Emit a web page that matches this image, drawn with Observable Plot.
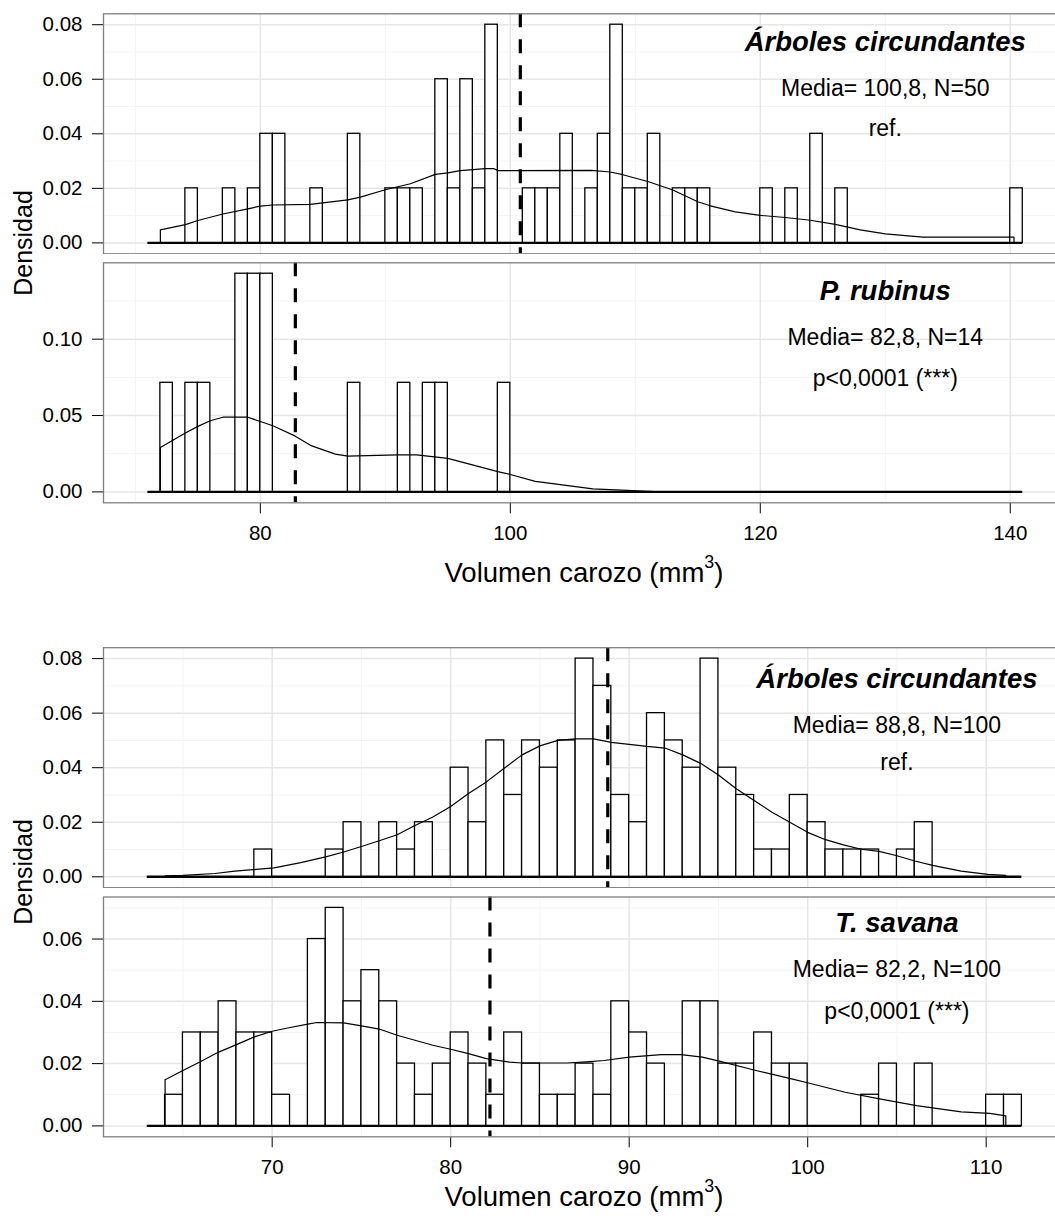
<!DOCTYPE html>
<html>
<head>
<meta charset="utf-8">
<script src="https://cdn.jsdelivr.net/npm/d3@7"></script>
<script src="https://cdn.jsdelivr.net/npm/@observablehq/plot@0.6"></script>
<style>
  html, body { margin: 0; padding: 0; background: #ffffff; }
  #root { position: relative; width: 1055px; height: 1223px; overflow: hidden; background: #ffffff;
          font-family: "Liberation Sans", Arial, Helvetica, sans-serif; color: #000; }
  .xtitle { position: absolute; transform: translate(-50%, -50%); white-space: nowrap; font-size: 27.5px; line-height: 1; }
  .xtitle sup { font-size: 0.65em; vertical-align: 0.8em; line-height: 0; }
  .ytitle { position: absolute; transform: translate(-50%, -50%) rotate(-90deg); white-space: nowrap; font-size: 25px; line-height: 1; }
</style>
</head>
<body>
<div id="root"></div>
<script>
// ---------------- DATA ----------------
const binWidth = 1;

// Figure 1, panel "Árboles circundantes" (N = 50)
const a1Start = [74, 77, 79, 80, 81, 84, 87, 90, 91, 92, 94, 95, 96, 97, 98, 101, 102, 103, 104, 106, 107, 108, 109, 110, 111, 113, 114, 115, 120, 122, 124, 126, 140];
const a1Count = [1, 1, 1, 2, 2, 1, 2, 1, 1, 1, 3, 1, 3, 1, 4, 1, 1, 1, 2, 1, 2, 4, 1, 1, 2, 1, 1, 1, 1, 1, 2, 1, 1];
const a1N = 50;
const a1Mean = 100.8;
const a1DensX = [72, 72, 74, 75, 77, 79, 80, 81, 84, 85, 87, 88, 90, 92, 94, 95, 96, 98, 98.7, 99, 106.5, 108, 109, 111, 113, 115, 116, 118, 120, 122, 124, 126, 128, 130, 133, 140.3, 140.3];
const a1DensY = [0, 0.0048, 0.0067, 0.0082, 0.0106, 0.0125, 0.0135, 0.0139, 0.0141, 0.0147, 0.0158, 0.0168, 0.0195, 0.0217, 0.0251, 0.0257, 0.0265, 0.0272, 0.0272, 0.0265, 0.0266, 0.026, 0.025, 0.0225, 0.0194, 0.0151, 0.0136, 0.0114, 0.0101, 0.0093, 0.0083, 0.0068, 0.0048, 0.0033, 0.0021, 0.0021, 0];
const a1Labels = ["Árboles circundantes", "Media= 100,8, N=50", "ref."];

// Figure 1, panel "P. rubinus" (N = 14)
const prStart = [72, 74, 75, 78, 79, 80, 87, 91, 93, 94, 99];
const prCount = [1, 1, 1, 2, 2, 2, 1, 1, 1, 1, 1];
const prN = 14;
const prMean = 82.8;
const prDensX = [72, 72, 74, 75, 76, 77, 79, 80, 81, 82.8, 84, 86, 87, 91, 92.5, 95, 99, 100, 102, 104, 106.6, 109.8, 112, 140.3];
const prDensY = [0, 0.029, 0.0386, 0.0429, 0.0466, 0.0489, 0.0489, 0.0461, 0.0433, 0.0365, 0.0305, 0.0247, 0.0234, 0.0242, 0.0242, 0.0219, 0.0133, 0.0114, 0.0069, 0.0047, 0.002, 0.0008, 0, 0];
const prLabels = ["P. rubinus", "Media= 82,8, N=14", "p<0,0001 (***)"];

// Figure 2, panel "Árboles circundantes" (N = 100)
const a2Start = [69, 73, 74, 76, 77, 78, 80, 81, 82, 83, 84, 85, 86, 87, 88, 89, 90, 91, 92, 93, 94, 95, 96, 97, 98, 99, 100, 101, 102, 103, 105, 106];
const a2Count = [1, 1, 2, 2, 1, 2, 4, 2, 5, 3, 5, 4, 5, 8, 7, 3, 2, 6, 5, 4, 8, 4, 3, 1, 1, 3, 2, 1, 1, 1, 1, 2];
const a2N = 100;
const a2Mean = 88.8;
const a2DensX = [64, 65, 66.8, 67.9, 69.1, 70.1, 71.6, 73, 74, 75, 76, 77, 78, 79, 80, 81, 82, 83, 84, 85, 86, 87, 88, 89, 91, 92, 93, 94, 95, 96, 97, 98, 99, 100, 101, 102, 103, 104, 105, 106, 107, 108.6, 110.1, 111.1];
const a2DensY = [0.0003, 0.0005, 0.0012, 0.0021, 0.0027, 0.0033, 0.0052, 0.0073, 0.0091, 0.0111, 0.0132, 0.0154, 0.0188, 0.0219, 0.0258, 0.0305, 0.0348, 0.0398, 0.0447, 0.048, 0.05, 0.0506, 0.0506, 0.0493, 0.0478, 0.0472, 0.0447, 0.0416, 0.0373, 0.0323, 0.028, 0.0237, 0.02, 0.0163, 0.0136, 0.0117, 0.0101, 0.0093, 0.0077, 0.0058, 0.0042, 0.0021, 0.0009, 0.0005];
const a2Labels = ["Árboles circundantes", "Media= 88,8, N=100", "ref."];

// Figure 2, panel "T. savana" (N = 100)
const tsStart = [64, 65, 66, 67, 68, 69, 70, 72, 73, 74, 75, 76, 77, 78, 79, 80, 81, 82, 83, 84, 85, 86, 87, 88, 89, 90, 91, 93, 94, 95, 96, 97, 98, 99, 103, 104, 106, 110, 111];
const tsCount = [1, 3, 3, 4, 3, 3, 1, 6, 7, 4, 5, 4, 2, 1, 2, 3, 2, 1, 3, 2, 1, 1, 2, 1, 4, 3, 2, 4, 4, 2, 2, 3, 2, 2, 1, 2, 2, 1, 1];
const tsN = 100;
const tsMean = 82.2;
const tsDensX = [64, 64, 65, 66, 67, 68, 69, 70, 71, 72, 72.5, 74, 75, 76, 77, 78, 79, 80, 81, 82, 83.3, 84, 86.5, 87.4, 88.6, 90, 91.8, 92.9, 94.1, 95.1, 97.1, 99.1, 100.1, 102.1, 104.1, 106.1, 108.6, 110.2, 111.1, 111.1];
const tsDensY = [0, 0.0148, 0.0178, 0.0207, 0.0237, 0.0261, 0.0286, 0.0304, 0.0316, 0.0327, 0.0332, 0.0331, 0.0321, 0.0311, 0.0291, 0.0275, 0.0259, 0.0246, 0.0232, 0.0216, 0.0205, 0.0202, 0.0202, 0.0205, 0.021, 0.0221, 0.0229, 0.0229, 0.0221, 0.0207, 0.0178, 0.0151, 0.0137, 0.0108, 0.0086, 0.0065, 0.0045, 0.004, 0.0032, 0];
const tsLabels = ["T. savana", "Media= 82,2, N=100", "p<0,0001 (***)"];

// Scales / ticks
const fig1XDomain = [67.45, 144.5];
const fig1XMajor = [80, 100, 120, 140];
const fig1XMinor = [70, 90, 110, 130];
const fig1BinRange = [71, 141];
const fig2XDomain = [60.55, 114.5];
const fig2XMajor = [70, 80, 90, 100, 110];
const fig2XMinor = [65, 75, 85, 95, 105];
const fig2BinRange = [63, 112];

const yDom008 = [-0.004, 0.084];
const yMajor008 = [0, 0.02, 0.04, 0.06, 0.08];
const yMinor008 = [0.01, 0.03, 0.05, 0.07];
const yDomPr = [-0.00714, 0.15];
const yMajorPr = [0, 0.05, 0.10];
const yMinorPr = [0.025, 0.075, 0.125];
const yDomTs = [-0.0035, 0.0735];
const yMajorTs = [0, 0.02, 0.04, 0.06];
const yMinorTs = [0.01, 0.03, 0.05, 0.07];

const xTitleText = "Volumen carozo (mm<sup>3</sup>)";
const yTitleText = "Densidad";

// ---------------- DRAWING ----------------
const root = document.getElementById("root");
const plotWidth = 1066;
const marginLeft = 103;

function panel(o) {
  const hist = o.starts.map((s, i) => ({x1: s, x2: s + binWidth, y: o.counts[i] / o.n / binWidth}));
  const dens = o.dx.map((x, i) => ({x, y: o.dy[i]}));
  const textMarks = o.labels.map((t, i) => Plot.text([t], {
    x: () => o.labelX,
    frameAnchor: "top",
    lineAnchor: "middle",
    dy: o.labelDy[i],
    text: d => d,
    fontSize: i === 0 ? 27.5 : 23,
    fontWeight: i === 0 ? "bold" : "normal",
    fontStyle: i === 0 ? "italic" : "normal",
    fill: "black"
  }));
  const svg = Plot.plot({
    width: plotWidth,
    height: o.height,
    marginLeft,
    marginRight: 0,
    marginTop: o.marginTop,
    marginBottom: o.marginBottom,
    style: {fontFamily: "'Liberation Sans', Arial, Helvetica, sans-serif", fontSize: "20.5px", background: "transparent", maxWidth: "none", color: "black"},
    x: {domain: o.xDomain, ticks: o.xMajor, tickSize: o.showX ? 11 : 0, tickPadding: 12, label: null, axis: o.showX ? "bottom" : null},
    y: {domain: o.yDomain, ticks: o.yMajor, tickFormat: d3.format(".2f"), tickSize: 11, tickPadding: 10, label: null},
    marks: [
      Plot.ruleX(o.xMinor, {stroke: "#f3f3f3", strokeWidth: 1}),
      Plot.ruleY(o.yMinor, {stroke: "#f3f3f3", strokeWidth: 1}),
      Plot.ruleX(o.xMajor, {stroke: "#e6e6e6", strokeWidth: 1.5}),
      Plot.ruleY(o.yMajor, {stroke: "#e6e6e6", strokeWidth: 1.5}),
      Plot.ruleY([{x1: o.binRange[0], x2: o.binRange[1], y: 0}], {x1: "x1", x2: "x2", y: "y", stroke: "black", strokeWidth: 2.4}),
      Plot.rect(hist, {x1: "x1", x2: "x2", y1: 0, y2: "y", fill: "white", stroke: "black", strokeWidth: 1.3}),
      Plot.line(dens, {x: "x", y: "y", stroke: "black", strokeWidth: 1.2}),
      Plot.ruleX([o.mean], {stroke: "black", strokeWidth: 3.2, strokeDasharray: "14,12"}),
      ...textMarks,
      Plot.frame({stroke: "#7f7f7f", strokeWidth: 1.3})
    ]
  });
  svg.style.position = "absolute";
  svg.style.left = "0px";
  svg.style.top = o.top + "px";
  root.appendChild(svg);
}

// Figure 1
panel({starts: a1Start, counts: a1Count, n: a1N, dx: a1DensX, dy: a1DensY, mean: a1Mean,
  labels: a1Labels, labelX: 130, labelDy: [28, 74.5, 115],
  xDomain: fig1XDomain, xMajor: fig1XMajor, xMinor: fig1XMinor, binRange: fig1BinRange,
  yDomain: yDom008, yMajor: yMajor008, yMinor: yMinor008,
  showX: false, top: 0, height: 254, marginTop: 13.3, marginBottom: 0.7});
panel({starts: prStart, counts: prCount, n: prN, dx: prDensX, dy: prDensY, mean: prMean,
  labels: prLabels, labelX: 130, labelDy: [28, 74.5, 115.5],
  xDomain: fig1XDomain, xMajor: fig1XMajor, xMinor: fig1XMinor, binRange: fig1BinRange,
  yDomain: yDomPr, yMajor: yMajorPr, yMinor: yMinorPr,
  showX: true, top: 254, height: 308, marginTop: 8.3, marginBottom: 59.7});

// Figure 2
panel({starts: a2Start, counts: a2Count, n: a2N, dx: a2DensX, dy: a2DensY, mean: a2Mean,
  labels: a2Labels, labelX: 105, labelDy: [31, 78, 115],
  xDomain: fig2XDomain, xMajor: fig2XMajor, xMinor: fig2XMinor, binRange: fig2BinRange,
  yDomain: yDom008, yMajor: yMajor008, yMinor: yMinor008,
  showX: false, top: 633.5, height: 254, marginTop: 13.2, marginBottom: 0.8});
panel({starts: tsStart, counts: tsCount, n: tsN, dx: tsDensX, dy: tsDensY, mean: tsMean,
  labels: tsLabels, labelX: 105, labelDy: [26.5, 73, 114.7],
  xDomain: fig2XDomain, xMajor: fig2XMajor, xMinor: fig2XMinor, binRange: fig2BinRange,
  yDomain: yDomTs, yMajor: yMajorTs, yMinor: yMinorTs,
  showX: true, top: 887.5, height: 308, marginTop: 8.5, marginBottom: 59.7});

// Axis titles
function addTitle(cls, html, x, y) {
  const d = document.createElement("div");
  d.className = cls;
  d.innerHTML = html;
  d.style.left = x + "px";
  d.style.top = y + "px";
  root.appendChild(d);
}
addTitle("xtitle", xTitleText, 584, 573);
addTitle("xtitle", xTitleText, 584, 1197);
addTitle("ytitle", yTitleText, 23, 243);
addTitle("ytitle", yTitleText, 23, 872);
</script>
</body>
</html>
